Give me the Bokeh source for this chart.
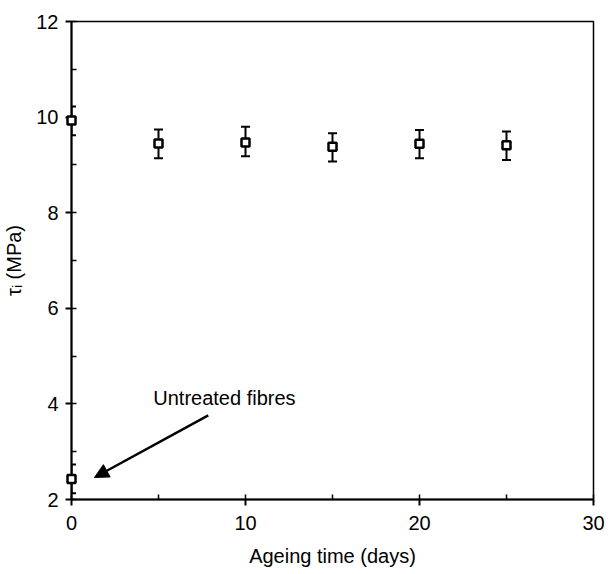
from bokeh.plotting import figure
from bokeh.models import (Range1d, SingleIntervalTicker, Whisker, TeeHead, Arrow,
                          NormalHead, ColumnDataSource, Label)
from bokeh.embed import file_html
from bokeh.resources import INLINE

# Data
ageing_days = [0, 5, 10, 15, 20, 25]
tau_mean = [9.93, 9.45, 9.47, 9.38, 9.44, 9.41]
tau_upper = [10.22, 9.74, 9.80, 9.66, 9.73, 9.70]
tau_lower = [9.62, 9.14, 9.18, 9.07, 9.14, 9.10]

untreated_x = [0]
untreated_mean = [2.43]
untreated_upper = [2.73]
untreated_lower = [2.13]

annot_text = "Untreated fibres"

FONT = "Liberation Sans"

p = figure(width=608, height=574, output_backend="svg", toolbar_location=None,
           x_range=Range1d(0, 30), y_range=Range1d(2, 12),
           min_border_left=70, min_border_right=15, min_border_top=21, min_border_bottom=75)
p.grid.visible = False
p.outline_line_color = "black"
p.outline_line_width = 1.5
p.background_fill_color = "white"
p.border_fill_color = "white"

p.xaxis.ticker = SingleIntervalTicker(interval=10, num_minor_ticks=2)
p.yaxis.ticker = SingleIntervalTicker(interval=2, num_minor_ticks=2)
for ax in (p.xaxis, p.yaxis):
    ax.axis_line_width = 2
    ax.axis_line_color = "black"
    ax.major_tick_in = 0
    ax.major_tick_out = 6
    ax.minor_tick_in = 5
    ax.minor_tick_out = 0
    ax.major_tick_line_width = 2
    ax.minor_tick_line_width = 1.5
    ax.major_label_text_font = FONT
    ax.major_label_text_font_size = "20px"
    ax.major_label_text_color = "black"
    ax.axis_label_text_font = FONT
    ax.axis_label_text_font_size = "20px"
    ax.axis_label_text_font_style = "normal"
    ax.axis_label_text_color = "black"
p.xaxis.axis_label = "Ageing time (days)"
p.yaxis.axis_label = "τᵢ (MPa)"
p.xaxis.major_label_standoff = 10
p.xaxis.axis_label_standoff = 12
p.yaxis.major_label_standoff = 7
p.yaxis.axis_label_standoff = 8

src = ColumnDataSource(dict(x=ageing_days, y=tau_mean, up=tau_upper, lo=tau_lower))
src_u = ColumnDataSource(dict(x=untreated_x, y=untreated_mean, up=untreated_upper, lo=untreated_lower))

for s in (src, src_u):
    w = Whisker(base="x", upper="up", lower="lo", source=s,
                line_color="black", line_width=2,
                upper_head=TeeHead(size=9, line_width=2, line_color="black"),
                lower_head=TeeHead(size=9, line_width=2, line_color="black"))
    p.add_layout(w)
    p.scatter("x", "y", source=s, marker="square", size=8, fill_color="white",
              line_color="black", line_width=2.5, level="overlay")

p.add_layout(Arrow(end=NormalHead(size=14, fill_color="black", line_color="black"),
                   x_start=7.86, y_start=3.76, x_end=1.32, y_end=2.46,
                   line_width=2.5, line_color="black"))
p.add_layout(Label(x=4.7, y=4.12, text=annot_text, text_font=FONT, text_font_size="20px",
                   text_color="black", text_baseline="alphabetic"))

open("out.html", "w").write(file_html(p, INLINE))
